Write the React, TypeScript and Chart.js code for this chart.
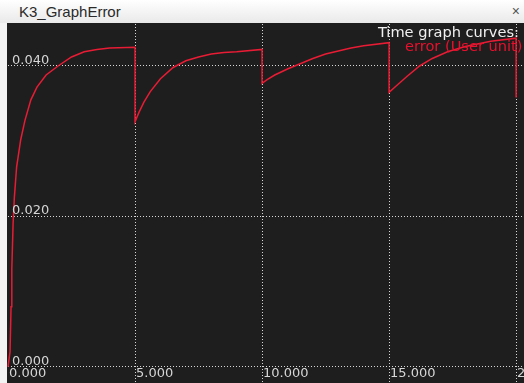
import React, { useEffect, useRef } from "react";
import { Chart, registerables } from "chart.js";

Chart.register(...registerables);

const timeValues = [
  0, 0.08, 0.12, 0.15, 0.2, 0.25, 0.34, 0.5, 0.67, 0.9, 1.14, 1.5, 1.97, 2.5, 3.0, 3.5, 4.0, 5.0,
  5.0, 5.15, 5.35, 5.6, 6.0, 6.5, 7.0, 7.5, 8.0, 8.5, 9.0, 10.0,
  10.0, 10.2, 10.5, 11.0, 11.5, 12.0, 12.5, 13.0, 13.5, 14.0, 15.0,
  15.0, 15.3, 15.7, 16.2, 16.7, 17.3, 18.0, 19.0, 20.0, 20.0,
];
const errorValues = [
  0, 0.002, 0.008, 0.013, 0.019, 0.0225, 0.0266, 0.0302, 0.0328, 0.0355, 0.0372, 0.0388, 0.04, 0.0412, 0.0419, 0.0422, 0.0424, 0.0425,
  0.0326, 0.0338, 0.0352, 0.0366, 0.0383, 0.0398, 0.0407, 0.0412, 0.0416, 0.0418, 0.0419, 0.0422,
  0.0377, 0.0382, 0.0388, 0.0396, 0.0403, 0.041, 0.0416, 0.042, 0.0424, 0.0427, 0.0431,
  0.0365, 0.0374, 0.0386, 0.04, 0.041, 0.0419, 0.0426, 0.0433, 0.0437, 0.0358,
];
const xTickValues = [0, 5, 10, 15, 20];
const yTickValues = [0, 0.02, 0.04];
const legendTitle = "Time graph curves:";
const seriesName = "error (User unit)";
const windowTitle = "K3_GraphError";

const FONT = "13px 'DejaVu Sans', sans-serif";

export default function App() {
  const canvasRef = useRef<HTMLCanvasElement | null>(null);

  useEffect(() => {
    const canvas = canvasRef.current;
    if (!canvas) return;
    const points = timeValues.map((t, i) => ({ x: t, y: errorValues[i] }));

    const overlay = {
      id: "overlay",
      beforeDraw(chart: any) {
        const { ctx, width, height } = chart;
        ctx.save();
        ctx.fillStyle = "#1e1e1e";
        ctx.fillRect(7, 0, width - 7, height);
        ctx.restore();
      },
      afterDraw(chart: any) {
        const { ctx } = chart;
        const xs = chart.scales.x;
        const ys = chart.scales.y;
        ctx.save();
        ctx.font = FONT;
        ctx.fillStyle = "#d6d6d6";
        ctx.textAlign = "left";
        ctx.textBaseline = "alphabetic";
        const y0 = ys.getPixelForValue(0);
        yTickValues.forEach((v) => {
          const py = ys.getPixelForValue(v);
          ctx.fillText(v.toFixed(3), 12, py - 2);
        });
        xTickValues.forEach((v) => {
          const px = xs.getPixelForValue(v);
          ctx.fillText(v.toFixed(3), px + 1, y0 + 10);
        });
        ctx.font = "14.6px 'DejaVu Sans', sans-serif";
        ctx.fillStyle = "#f0f0f0";
        ctx.textAlign = "right";
        ctx.fillText(legendTitle, 519, 14);
        ctx.fillStyle = "#e8102c";
        ctx.textAlign = "left";
        ctx.fillText(seriesName, 405, 28);
        ctx.restore();
      },
    };

    const chart = new Chart(canvas, {
      type: "line",
      data: {
        datasets: [
          {
            label: seriesName,
            data: points,
            borderColor: "rgb(232,28,52)",
            borderWidth: 1.5,
            pointRadius: 0,
            tension: 0,
            fill: false,
            clip: false as any,
          },
        ],
      },
      options: {
        animation: false,
        responsive: false,
        devicePixelRatio: 1,
        layout: { padding: { left: 8, top: 1, right: 0, bottom: 0 } },
        plugins: { legend: { display: false }, tooltip: { enabled: false } },
        scales: {
          x: {
            type: "linear",
            min: 0,
            max: 20.31,
            afterBuildTicks: (s: any) => {
              s.ticks = xTickValues.map((v) => ({ value: v }));
            },
            ticks: { display: false },
            grid: {
              drawTicks: false,
              lineWidth: 1,
              color: (c: any) => (c.tick && c.tick.value === 0 ? "rgba(0,0,0,0)" : "rgba(225,225,225,0.95)"),
            },
            border: { display: false, dash: [1, 2] },
          },
          y: {
            type: "linear",
            min: -0.00213,
            max: 0.04558,
            afterBuildTicks: (s: any) => {
              s.ticks = yTickValues.map((v) => ({ value: v }));
            },
            ticks: { display: false },
            grid: { drawTicks: false, lineWidth: 1, color: "rgba(225,225,225,0.95)" },
            border: { display: false, dash: [1, 2] },
          },
        },
      },
      plugins: [overlay],
    });
    return () => chart.destroy();
  }, []);

  return (
    <div
      style={{
        position: "fixed",
        left: 0,
        top: 0,
        width: 524,
        height: 383,
        background: "#f3f3f3",
        overflow: "hidden",
      }}
    >
      <div
        style={{
          position: "absolute",
          left: 0,
          top: 0,
          width: 524,
          height: 23,
          background: "linear-gradient(#ffffff, #e9e9e9)",
          fontFamily: "'Liberation Sans', Arial, sans-serif",
          fontSize: 15,
          color: "#2a2a2a",
        }}
      >
        <span style={{ position: "absolute", left: 19, top: 3 }}>{windowTitle}</span>
        <span style={{ position: "absolute", right: 4, top: 3, fontSize: 14, color: "#555" }}>×</span>
      </div>
      <canvas
        ref={canvasRef}
        width={524}
        height={360}
        style={{ position: "absolute", left: 0, top: 23, width: 524, height: 360 }}
      />
    </div>
  );
}
